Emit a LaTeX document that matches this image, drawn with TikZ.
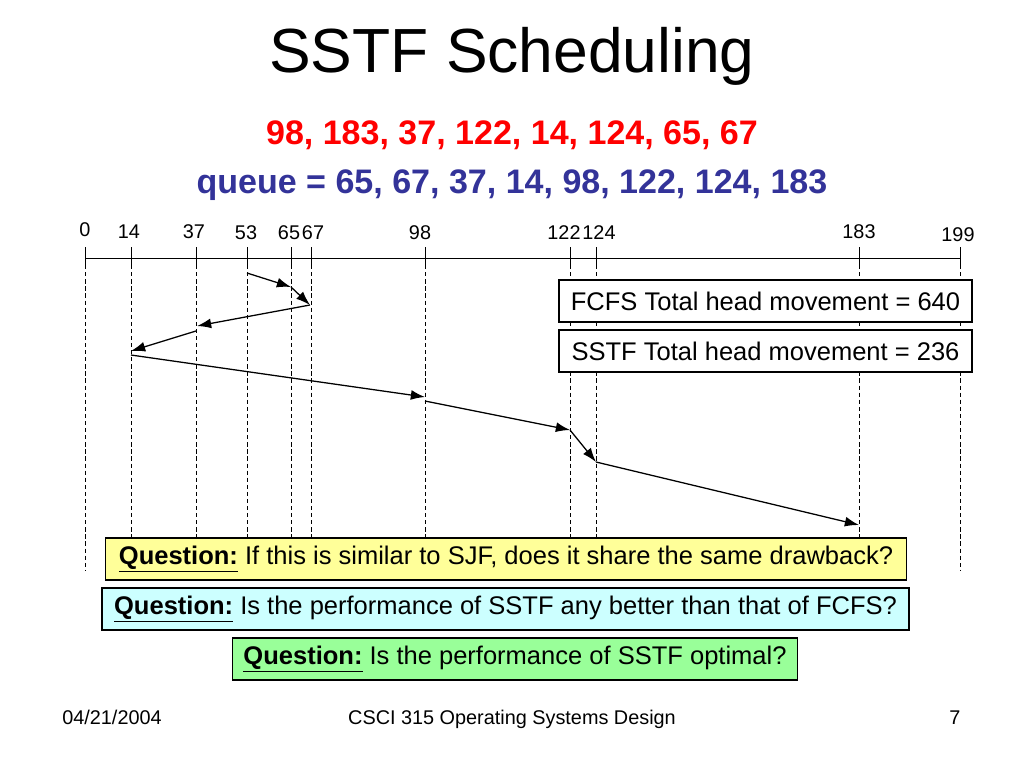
\documentclass[tikz,border=0pt]{standalone}
\usepackage{fontspec}
\setmainfont{Liberation Sans}
\usetikzlibrary{arrows.meta}

\definecolor{qyellow}{RGB}{255,255,153}
\definecolor{qcyan}{RGB}{204,255,255}
\definecolor{qgreen}{RGB}{153,255,153}
\definecolor{queueblue}{RGB}{51,51,153}

\tikzset{
  >={Latex[length=10pt,width=7pt]},
  ticklabel/.style={font=\fontsize{14}{16}\selectfont, inner sep=0pt},
  guide/.style={dash pattern=on 3pt off 2pt, line width=0.6pt},
  move/.style={->, line width=0.9pt},
  totalbox/.style={draw, fill=white, line width=0.8pt, minimum width=10.24cm, minimum height=1.04cm, font=\fontsize{18}{21}\selectfont},
  qbox/.style={draw, line width=0.8pt, minimum height=1.04cm, font=\fontsize{18}{21}\selectfont},
  footer/.style={anchor=base, font=\fontsize{14}{16}\selectfont}
}

\begin{document}
\begin{tikzpicture}[x=0.0248cm, y=-0.0248cm]
\useasboundingbox (0,0) rectangle (1024,768);

% Title and request lists
\node (title) at (512,56) {\fontsize{44}{50}\selectfont SSTF Scheduling};
\node[red] (requests) at (512,135) {\fontsize{24}{28}\selectfont\bfseries 98, 183, 37, 122, 14, 124, 65, 67};
\node[queueblue] (queue) at (512,185) {\fontsize{24}{28}\selectfont\bfseries queue = 65, 67, 37, 14, 98, 122, 124, 183};

% Cylinder axis
\coordinate (axl) at (85,258);
\coordinate (axr) at (960,258);
\draw[line width=0.7pt] (axl) -- (axr);

% Ticks, labels and dashed guides
\foreach \x/\lab/\ly in {85/0/230, 129/14/232, 194/37/232, 246/53/233, 289/65/233, 313/67/233,
                        420/98/233, 564/122/233, 599/124/233, 859/183/232, 958/199/235}{
  \node[ticklabel] (t\lab) at (\x,\ly) {\lab};
}
\foreach \x in {85,131,196,247,291,311,425,570,596,859,960}{
  \draw[guide] (\x,258) -- (\x,570);
  \draw[line width=0.6pt] (\x,247) -- (\x,266);
}

% Totals
\node[totalbox] (fcfs) at (765.5,301) {FCFS Total head movement = 640};
\node[totalbox] (sstf) at (765.5,351) {SSTF Total head movement = 236};

% Head movement
\coordinate (h0) at (247,273);
\coordinate (h1) at (291,287);
\coordinate (h2) at (310,305);
\coordinate (h3) at (197,326);
\coordinate (h4) at (196,331);
\coordinate (h5) at (131,351);
\coordinate (h6) at (131,355);
\coordinate (h7) at (425,397);
\coordinate (h8) at (425,401);
\coordinate (h9) at (570,430);
\coordinate (h10) at (596,462);
\coordinate (h11) at (859,525);
\draw[move] (h0) -- (h1);
\draw[move] (h1) -- (h2);
\draw[move] (h2) -- (h3);
\draw[move] (h4) -- (h5);
\draw[move] (h6) -- (h7);
\draw[move] (h8) -- (h9);
\draw[move] (h9) -- (h10);
\draw[move] (h10) -- (h11);

% Questions
\node[qbox, fill=qyellow, minimum width=19.84cm] (q1) at (506,559)
  {\underline{\textbf{Question:}} If this is similar to SJF, does it share the same drawback?};
\node[qbox, fill=qcyan, minimum width=20.01cm] (q2) at (505.5,609)
  {\underline{\textbf{Question:}} Is the performance of SSTF any better than that of FCFS?};
\node[qbox, fill=qgreen, minimum width=13.99cm] (q3) at (515,659)
  {\underline{\textbf{Question:}} Is the performance of SSTF optimal?};

% Footer
\node[footer] (date) at (112,724) {04/21/2004};
\node[footer] (course) at (512,724) {CSCI 315 Operating Systems Design};
\node[footer] (page) at (955,724) {7};
\end{tikzpicture}
\end{document}
